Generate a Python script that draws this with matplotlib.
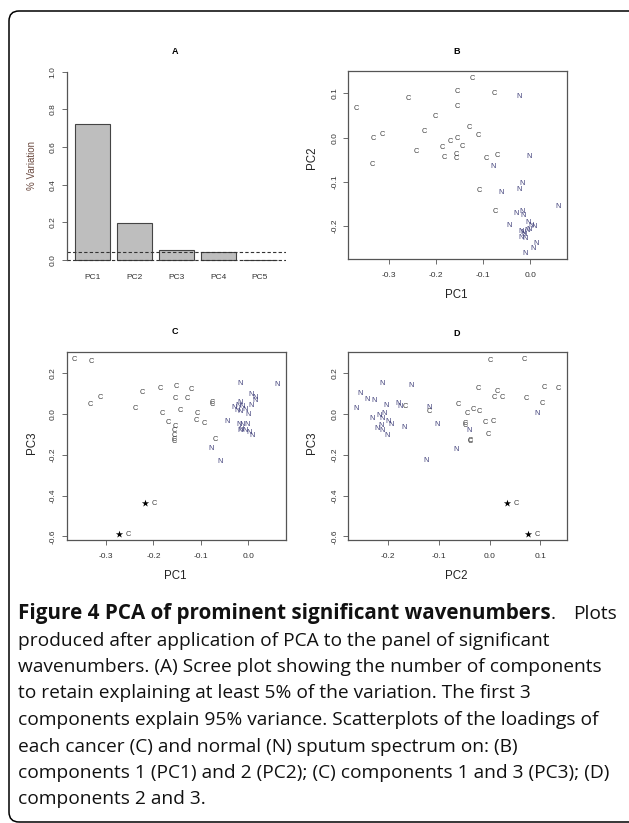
import matplotlib
matplotlib.use("Agg")
import matplotlib.pyplot as plt
from matplotlib.patches import FancyBboxPatch
from matplotlib.transforms import IdentityTransform
from matplotlib.ticker import FormatStrFormatter

W, H = 629, 823

# panel A: scree plot
pc_names = ["PC1", "PC2", "PC3", "PC4", "PC5"]
pc_var = [0.721, 0.195, 0.051, 0.041, 0.002]
cutoff = 0.041

# panel B: PC1 vs PC2
b_c_pc1 = [-0.122, -0.154, -0.077, -0.258, -0.369, -0.154, -0.201, -0.129, -0.225,
           -0.110, -0.333, -0.313, -0.155, -0.170, -0.186, -0.144, -0.241, -0.182,
           -0.157, -0.156, -0.093, -0.071, -0.334, -0.109, -0.074]
b_c_pc2 = [0.133, 0.105, 0.100, 0.089, 0.066, 0.071, 0.048, 0.024, 0.015,
           0.005, -0.001, 0.007, -0.003, -0.009, -0.022, -0.021, -0.032, -0.044,
           -0.037, -0.047, -0.047, -0.040, -0.061, -0.120, -0.166]
b_n_pc1 = [-0.024, -0.003, -0.080, -0.018, -0.025, -0.062, 0.059, -0.030, -0.018,
           -0.016, -0.006, -0.046, 0.007, 0.001, -0.020, -0.015, -0.008, -0.002,
           -0.020, -0.011, -0.013, 0.011, 0.006, -0.011]
b_n_pc2 = [0.093, -0.042, -0.066, -0.103, -0.117, -0.124, -0.155, -0.172, -0.168,
           -0.176, -0.192, -0.199, -0.201, -0.198, -0.213, -0.215, -0.211, -0.207,
           -0.226, -0.228, -0.220, -0.240, -0.250, -0.262]

# panel C: PC1 vs PC3
c_c_pc1 = [-0.368, -0.332, -0.152, -0.185, -0.120, -0.223, -0.312, -0.154, -0.128,
           -0.334, -0.076, -0.076, -0.238, -0.143, -0.181, -0.108, -0.169, -0.110,
           -0.092, -0.154, -0.155, -0.155, -0.155, -0.155, -0.070]
c_c_pc3 = [0.268, 0.258, 0.132, 0.124, 0.119, 0.104, 0.080, 0.075, 0.078,
           0.048, 0.057, 0.044, 0.026, 0.015, 0.003, 0.003, -0.043, -0.034,
           -0.048, -0.062, -0.083, -0.106, -0.124, -0.137, -0.126]
c_n_pc1 = [-0.017, 0.061, 0.007, 0.014, 0.014, 0.007, -0.017, -0.022, -0.029,
           -0.013, -0.006, -0.017, -0.001, -0.024, -0.044, -0.020, -0.012, -0.003,
           -0.014, -0.007, 0.001, 0.008, -0.017, -0.079, -0.059]
c_n_pc3 = [0.149, 0.142, 0.097, 0.080, 0.064, 0.041, 0.057, 0.041, 0.031,
           0.034, 0.020, 0.011, -0.001, 0.015, -0.036, -0.054, -0.054, -0.054,
           -0.074, -0.083, -0.090, -0.106, -0.083, -0.168, -0.232]
c_star_pc1 = [-0.218, -0.273]
c_star_pc3 = [-0.438, -0.590]

# panel D: PC2 vs PC3
d_c_pc2 = [0.001, 0.068, 0.107, 0.135, -0.022, 0.016, 0.010, 0.025, 0.073,
           0.103, -0.166, -0.119, -0.061, -0.044, -0.032, -0.020, -0.009, 0.007,
           -0.048, -0.048, -0.002, -0.038, -0.038]
d_c_pc3 = [0.260, 0.268, 0.131, 0.123, 0.126, 0.111, 0.082, 0.080, 0.074,
           0.052, 0.036, 0.011, 0.044, 0.000, 0.020, 0.011, -0.044, -0.036,
           -0.048, -0.059, -0.103, -0.131, -0.136]
d_n_pc2 = [-0.212, -0.155, -0.254, -0.241, -0.227, -0.204, -0.180, -0.176, -0.119,
           -0.263, 0.094, -0.231, -0.217, -0.208, -0.211, -0.200, -0.193, -0.214,
           -0.222, -0.212, -0.202, -0.168, -0.103, -0.040, -0.066, -0.124]
d_n_pc3 = [0.150, 0.139, 0.101, 0.072, 0.065, 0.039, 0.052, 0.036, 0.033,
           0.026, 0.001, -0.023, -0.008, 0.000, -0.021, -0.038, -0.052, -0.055,
           -0.070, -0.082, -0.108, -0.067, -0.054, -0.082, -0.173, -0.230]
d_star_pc2 = [0.035, 0.076]
d_star_pc3 = [-0.438, -0.590]

caption_bold = "Figure 4 PCA of prominent significant wavenumbers"
caption_lines = [
    "produced after application of PCA to the panel of significant",
    "wavenumbers. (A) Scree plot showing the number of components",
    "to retain explaining at least 5% of the variation. The first 3",
    "components explain 95% variance. Scatterplots of the loadings of",
    "each cancer (C) and normal (N) sputum spectrum on: (B)",
    "components 1 (PC1) and 2 (PC2); (C) components 1 and 3 (PC3); (D)",
    "components 2 and 3.",
]

C_COL = "#3f3f3f"
N_COL = "#3d3d78"
AX_COL = "#555555"
plt.rcParams["font.family"] = ["Liberation Sans", "DejaVu Sans"]


def rect(l, t, r, b):
    return [l / W, 1 - b / H, (r - l) / W, (b - t) / H]


def ftext(x, y, s, **kw):
    fig.text(x / W, 1 - y / H, s, ha="center", va="center", **kw)


def style_axes(ax, fmt_x=True):
    for sp in ax.spines.values():
        sp.set_color(AX_COL)
        sp.set_linewidth(0.9)
    ax.tick_params(direction="out", length=3.3, width=0.6, color=AX_COL,
                   labelsize=6, labelcolor="#333333")
    ax.tick_params(axis="x", pad=6)
    ax.tick_params(axis="y", pad=4)
    for lab in ax.get_yticklabels():
        lab.set_rotation(90)
        lab.set_va("center")
    if fmt_x:
        ax.xaxis.set_major_formatter(FormatStrFormatter("%.1f"))
    ax.yaxis.set_major_formatter(FormatStrFormatter("%.1f"))


def scatter_panel(ax, cx, cy, nx, ny, sx=None, sy=None):
    for x, y in zip(cx, cy):
        ax.text(x, y, "C", color=C_COL, fontsize=5.3, ha="center", va="center")
    for x, y in zip(nx, ny):
        ax.text(x, y, "N", color=N_COL, fontsize=5.3, ha="center", va="center")
    if sx is not None:
        ax.scatter(sx, sy, marker="*", s=30, color="black", linewidths=0)
        for x, y in zip(sx, sy):
            ax.annotate("C", (x, y), xytext=(6.5, 0), textcoords="offset points",
                        color=C_COL, fontsize=5.3, ha="center", va="center")


fig = plt.figure(figsize=(W / 100, H / 100), dpi=100)
fig.patch.set_facecolor("white")

# frame around figure
frame = FancyBboxPatch((9, 1), 700, 811, boxstyle="round,pad=0,rounding_size=10",
                       transform=IdentityTransform(), facecolor="none",
                       edgecolor="black", linewidth=1.1)
fig.patches.append(frame)

# ---- A ----
axA = fig.add_axes(rect(66.7, 64.2, 286, 267.5))
pos = list(range(len(pc_names)))
axA.bar(pos, pc_var, width=0.833, color="#bebebe", edgecolor="#444444", linewidth=0.8)
axA.axhline(cutoff, color="#333333", lw=0.8, ls=(0, (3, 2)))
axA.axhline(0, color="#333333", lw=0.8, ls=(0, (3, 2)))
axA.set_xlim(-0.61, 4.62)
axA.set_ylim(-0.04, 1.04)
for k in ["top", "right", "bottom"]:
    axA.spines[k].set_visible(False)
axA.spines["left"].set_bounds(0, 1)
axA.set_yticks([0, 0.2, 0.4, 0.6, 0.8, 1.0])
style_axes(axA, fmt_x=False)
axA.set_xticks(pos)
axA.set_xticklabels(pc_names)
axA.tick_params(axis="x", length=0, pad=4.5)
ftext(175, 51.7, "A", fontsize=6.5, fontweight="bold")
ftext(31.7, 165, "% Variation", fontsize=7, rotation=90, color="#6b4a40")

# ---- B ----
axB = fig.add_axes(rect(348.3, 71.3, 567.3, 259.3))
scatter_panel(axB, b_c_pc1, b_c_pc2, b_n_pc1, b_n_pc2)
axB.set_xlim(-0.385, 0.078)
axB.set_ylim(-0.275, 0.150)
axB.set_xticks([-0.3, -0.2, -0.1, 0.0])
axB.set_yticks([-0.2, -0.1, 0.0, 0.1])
style_axes(axB)
ftext(456.7, 51.7, "B", fontsize=6.5, fontweight="bold")
ftext(456.7, 295, "PC1", fontsize=8.3, color="#222222")
ftext(312, 158, "PC2", fontsize=8.3, rotation=90, color="#222222")

# ---- C ----
axC = fig.add_axes(rect(66.7, 351.7, 286, 540))
scatter_panel(axC, c_c_pc1, c_c_pc3, c_n_pc1, c_n_pc3, c_star_pc1, c_star_pc3)
axC.set_xlim(-0.383, 0.080)
axC.set_ylim(-0.618, 0.305)
axC.set_xticks([-0.3, -0.2, -0.1, 0.0])
axC.set_yticks([-0.6, -0.4, -0.2, 0.0, 0.2])
style_axes(axC)
ftext(175, 331.7, "C", fontsize=6.5, fontweight="bold")
ftext(175, 576, "PC1", fontsize=8.3, color="#222222")
ftext(31.7, 443, "PC3", fontsize=8.3, rotation=90, color="#222222")

# ---- D ----
axD = fig.add_axes(rect(348.3, 351.7, 567.3, 540))
scatter_panel(axD, d_c_pc2, d_c_pc3, d_n_pc2, d_n_pc3, d_star_pc2, d_star_pc3)
axD.set_xlim(-0.278, 0.153)
axD.set_ylim(-0.618, 0.305)
axD.set_xticks([-0.2, -0.1, 0.0, 0.1])
axD.set_yticks([-0.6, -0.4, -0.2, 0.0, 0.2])
style_axes(axD)
ftext(456.7, 333.3, "D", fontsize=6.5, fontweight="bold")
ftext(456.7, 576, "PC2", fontsize=8.3, color="#222222")
ftext(312, 443, "PC3", fontsize=8.3, rotation=90, color="#222222")

# ---- caption ----
cap_font = ["Open Sans", "DejaVu Sans"]
y0, dy = 614, 26.5
tb = fig.text(18 / W, 1 - y0 / H, caption_bold, family=cap_font, fontsize=14.9,
              fontweight="bold", va="center", ha="left", color="#111111")
renderer = fig.canvas.get_renderer()
bb = tb.get_window_extent(renderer)
fig.text(bb.x1 / W, 1 - y0 / H, ".", family=cap_font, fontsize=13.8,
         va="center", ha="left", color="#111111")
fig.text(617 / W, 1 - y0 / H, "Plots", family=cap_font, fontsize=13.8,
         va="center", ha="right", color="#111111")
for i, line in enumerate(caption_lines):
    fig.text(18 / W, 1 - (y0 + dy * (i + 1)) / H, line, family=cap_font,
             fontsize=13.8, va="center", ha="left", color="#111111")

fig.savefig("out.png", dpi=100)
